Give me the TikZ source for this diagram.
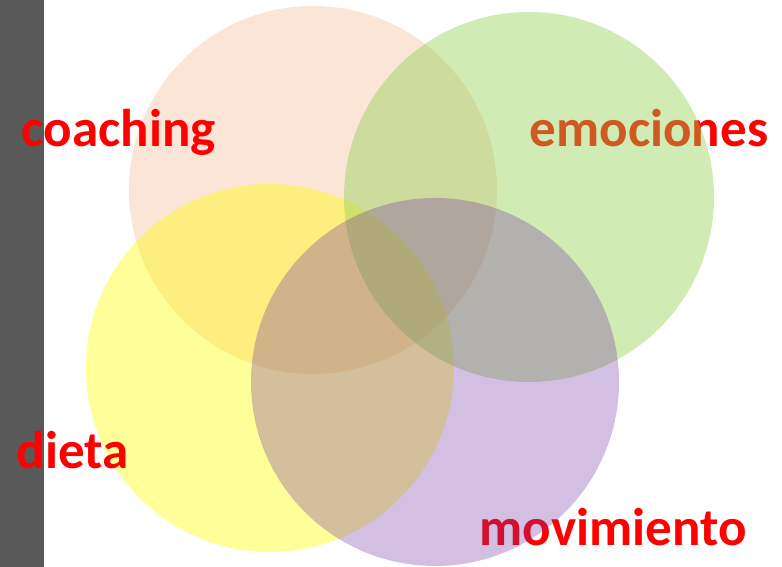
\documentclass[tikz,border=0pt]{standalone}
\usepackage{fontspec}
\setmainfont{Carlito}
\definecolor{peach}{HTML}{ED7D31}
\definecolor{lima}{HTML}{92D050}
\definecolor{amarillo}{HTML}{FFFF00}
\definecolor{morado}{HTML}{7030A0}
\definecolor{barra}{HTML}{595959}
\tikzset{
  etiqueta/.style={anchor=base west,inner sep=0pt,text=red,font=\fontsize{15.1}{17}\selectfont\bfseries},
  aro/.style={fill=#1,draw=none}
}
\begin{document}
\begin{tikzpicture}

		\useasboundingbox (0,0) rectangle (7.82,5.67);
		\fill[barra] (0,0) rectangle (0.44,5.67);
		\fill[aro=peach,fill opacity=0.2] (3.13,3.77) circle (1.84);
		\fill[aro=amarillo,fill opacity=0.4] (2.70,1.99) circle (1.84);
		\node(1) at (0.21,4.20)[etiqueta]{coaching};
		\node(2) at (0.16,0.98)[etiqueta]{dieta};
		\node(3) at (5.29,4.20)[etiqueta]{emociones};
		\node(4) at (4.79,0.21)[etiqueta]{movimiento};
		\fill[aro=lima,fill opacity=0.43] (5.29,3.70) circle (1.85);
		\fill[aro=morado,fill opacity=0.31] (4.35,1.85) circle (1.84);

	\end{tikzpicture}
\end{document}
